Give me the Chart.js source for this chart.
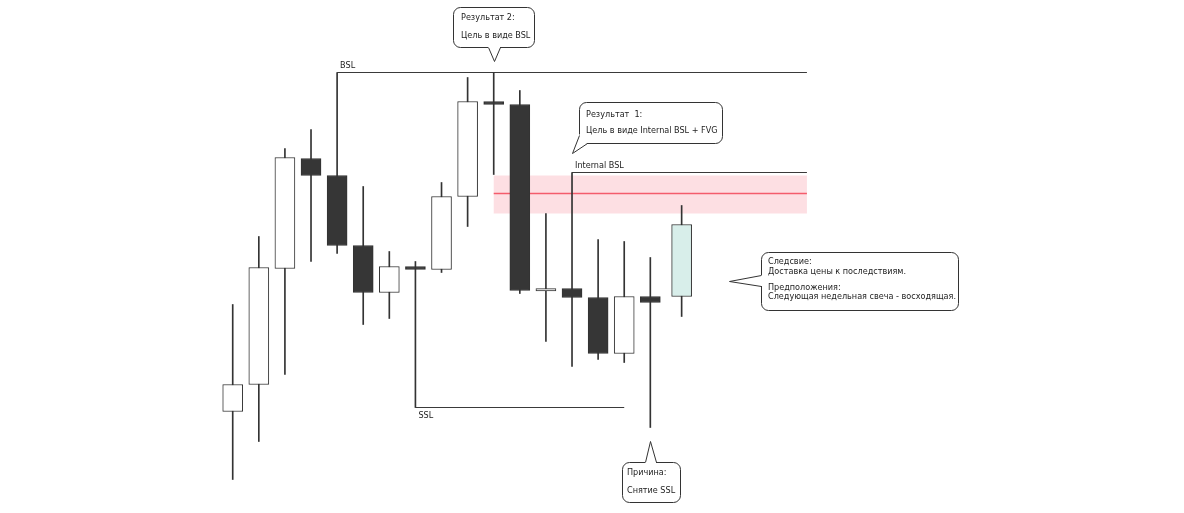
<!DOCTYPE html>
<html>
<head>
<meta charset="utf-8">
<script src="https://cdn.jsdelivr.net/npm/chart.js@4.4.0/dist/chart.umd.min.js"></script>
<style>
    html, body { margin: 0; padding: 0; background: #fff; }
    #wrap { width: 1184px; height: 513px; position: relative; }
</style>
</head>
<body>
<div id="wrap"><canvas id="chart"></canvas></div>
<script>
// candle positions (bar index) and prices
const candleX = [0, 1, 2, 3, 4, 5, 6, 7, 8, 9, 10, 11, 12, 13, 14, 15, 16, 17.2];
const openPrices  = [101, 128, 244, 354, 337, 267, 220, 246, 243, 316, 411, 408, 221.5, 224, 215, 159, 216, 216];
const closePrices = [128, 245, 355, 337, 267, 220, 246, 243, 316, 411, 408, 222, 224, 215, 159, 216, 210, 288];
const highPrices  = [208, 276, 364, 383, 440, 326, 261, 251, 330, 435, 440, 422, 299, 340, 273, 271, 255, 307];
const lowPrices   = [33, 71, 138, 251, 259, 188, 194, 105, 240, 286, 338, 219, 171, 146, 153, 150, 85, 196];

// liquidity levels
const levelNames  = ['BSL', 'Internal BSL', 'SSL'];
const levelPrices = [440, 340, 105];
const levelFrom   = [4, 13, 7];
const levelTo     = [22, 22, 15];

// fair value gap
const fvgFrom = 10;
const fvgTo = 22;
const fvgTop = 337;
const fvgBottom = 299;
const fvgMid = 319;

// callouts: anchor (bar index, price) + text lines
const callouts = [
    { x: 10, y: 451, lines: ['Результат 2:', 'Цель в виде BSL'] },
    { x: 13, y: 359, lines: ['Результат  1:', 'Цель в виде Internal BSL + FVG'] },
    { x: 19, y: 232, lines: ['Следсвие:', 'Доставка цены к последствиям.', '', 'Предположения:', 'Следующая недельная свеча - восходящая.'] },
    { x: 16, y: 72, lines: ['Причина:', 'Снятие SSL'] }
];

// box layout for each callout (pixels, relative to the pointer tip)
const calloutBoxes = [
    { dx: -41, dy: -54, w: 81, h: 40, side: 'bottom', tx: 8, ty: [11, 29] },
    { dx: 7, dy: -51, w: 143, h: 41, side: 'corner', tx: 7, ty: [13, 29] },
    { dx: 32, dy: -29, w: 197, h: 58, side: 'left', tx: 7, ty: [10, 20, 0, 36, 45] },
    { dx: -28, dy: 21, w: 58, h: 40, side: 'top', tx: 5, ty: [11, 29] }
];

const highlightIndex = 17;
const INK = '#333333';
const FONT = '9px "DejaVu Sans Condensed", "DejaVu Sans", sans-serif';

function bodyColor(i) {
    if (i === highlightIndex) return '#d8eeea';
    return closePrices[i] >= openPrices[i] ? '#ffffff' : '#363636';
}

const bodies = candleX.map((x, i) => ({ x: x, y: [openPrices[i], closePrices[i]] }));
const wicks = candleX.map((x, i) => ({ x: x, y: [lowPrices[i], highPrices[i]] }));

const levelDatasets = levelNames.map((name, i) => ({
    type: 'line',
    label: name,
    data: [{ x: levelFrom[i], y: levelPrices[i] }, { x: levelTo[i], y: levelPrices[i] }],
    borderColor: '#3a3a3a',
    borderWidth: 1,
    pointRadius: 0,
    order: 2
}));

function drawCallout(ctx, ax, ay, box, lines) {
    const bx = ax + box.dx, by = ay + box.dy;
    const w = box.w, h = box.h;
    let p1, p2;
    if (box.side === 'bottom') { p1 = [ax - 6, by + h]; p2 = [ax + 6, by + h]; }
    if (box.side === 'top') { p1 = [ax - 5, by]; p2 = [ax + 6, by]; }
    if (box.side === 'left') { p1 = [bx, ay - 6]; p2 = [bx, ay + 5]; }
    if (box.side === 'corner') { p1 = [bx, by + h - 8]; p2 = [bx + 8, by + h]; }

    ctx.save();
    ctx.lineWidth = 1;
    ctx.strokeStyle = INK;
    ctx.fillStyle = '#fff';
    ctx.beginPath();
    ctx.roundRect(bx + 0.5, by + 0.5, w, h, 7);
    ctx.fill();
    ctx.stroke();

    // pointer: white triangle covers the box edge, then its two sides
    ctx.beginPath();
    ctx.moveTo(p1[0], p1[1]);
    ctx.lineTo(ax, ay);
    ctx.lineTo(p2[0], p2[1]);
    ctx.closePath();
    ctx.fill();
    ctx.beginPath();
    ctx.moveTo(p1[0], p1[1]);
    ctx.lineTo(p2[0], p2[1]);
    ctx.lineWidth = 2.5;
    ctx.strokeStyle = '#fff';
    ctx.stroke();
    ctx.beginPath();
    ctx.moveTo(p1[0] + 0.5, p1[1] + 0.5);
    ctx.lineTo(ax + 0.5, ay + 0.5);
    ctx.lineTo(p2[0] + 0.5, p2[1] + 0.5);
    ctx.lineWidth = 1;
    ctx.strokeStyle = INK;
    ctx.stroke();

    ctx.fillStyle = '#222';
    ctx.font = FONT;
    ctx.textBaseline = 'middle';
    ctx.textAlign = 'left';
    lines.forEach((t, k) => {
        if (t) ctx.fillText(t, bx + box.tx, by + box.ty[k]);
    });
    ctx.restore();
}

const annotations = {
    id: 'annotations',
    beforeDatasetsDraw(chart) {
        const { ctx, scales: { x, y } } = chart;
        const l = x.getPixelForValue(fvgFrom);
        const r = x.getPixelForValue(fvgTo);
        const t = y.getPixelForValue(fvgTop);
        const b = y.getPixelForValue(fvgBottom);
        const m = y.getPixelForValue(fvgMid);
        ctx.save();
        ctx.fillStyle = 'rgba(250,170,182,0.38)';
        ctx.fillRect(l, t, r - l, b - t);
        // FVG midline
        ctx.fillStyle = 'rgb(244, 92, 108)';
        ctx.fillRect(l, m - 0.75, r - l, 1.5);
        ctx.restore();
    },
    afterDatasetsDraw(chart) {
        const { ctx, scales: { x, y } } = chart;
        ctx.save();
        ctx.font = FONT;
        ctx.fillStyle = '#222';
        ctx.textAlign = 'left';
        ctx.textBaseline = 'middle';
        levelNames.forEach((name, i) => {
            const px = x.getPixelForValue(levelFrom[i]);
            const py = y.getPixelForValue(levelPrices[i]);
            const below = levelPrices[i] < 200;
            ctx.fillText(name, px + 3, below ? py + 8 : py - 7);
        });
        ctx.restore();

        callouts.forEach((c, i) => {
            drawCallout(ctx, Math.round(x.getPixelForValue(c.x)), Math.round(y.getPixelForValue(c.y)), calloutBoxes[i], c.lines);
        });
    }
};

new Chart(document.getElementById('chart'), {
    type: 'bar',
    data: {
        datasets: [
            {
                label: 'body',
                data: bodies,
                backgroundColor: candleX.map((x, i) => bodyColor(i)),
                borderColor: INK,
                borderWidth: 1,
                borderSkipped: false,
                barThickness: 20,
                grouped: false,
                order: 0
            },
            {
                label: 'wick',
                data: wicks,
                backgroundColor: INK,
                borderWidth: 0,
                barThickness: 1,
                grouped: false,
                order: 1
            },
            ...levelDatasets
        ]
    },
    options: {
        responsive: true,
        maintainAspectRatio: false,
        animation: false,
        layout: { padding: 0 },
        plugins: {
            legend: { display: false },
            tooltip: { enabled: false }
        },
        scales: {
            x: { type: 'linear', min: -8.916, max: 36.447, offset: false, display: false },
            y: { type: 'linear', min: -0.5, max: 512.5, display: false }
        }
    },
    plugins: [annotations]
});
</script>
</body>
</html>
